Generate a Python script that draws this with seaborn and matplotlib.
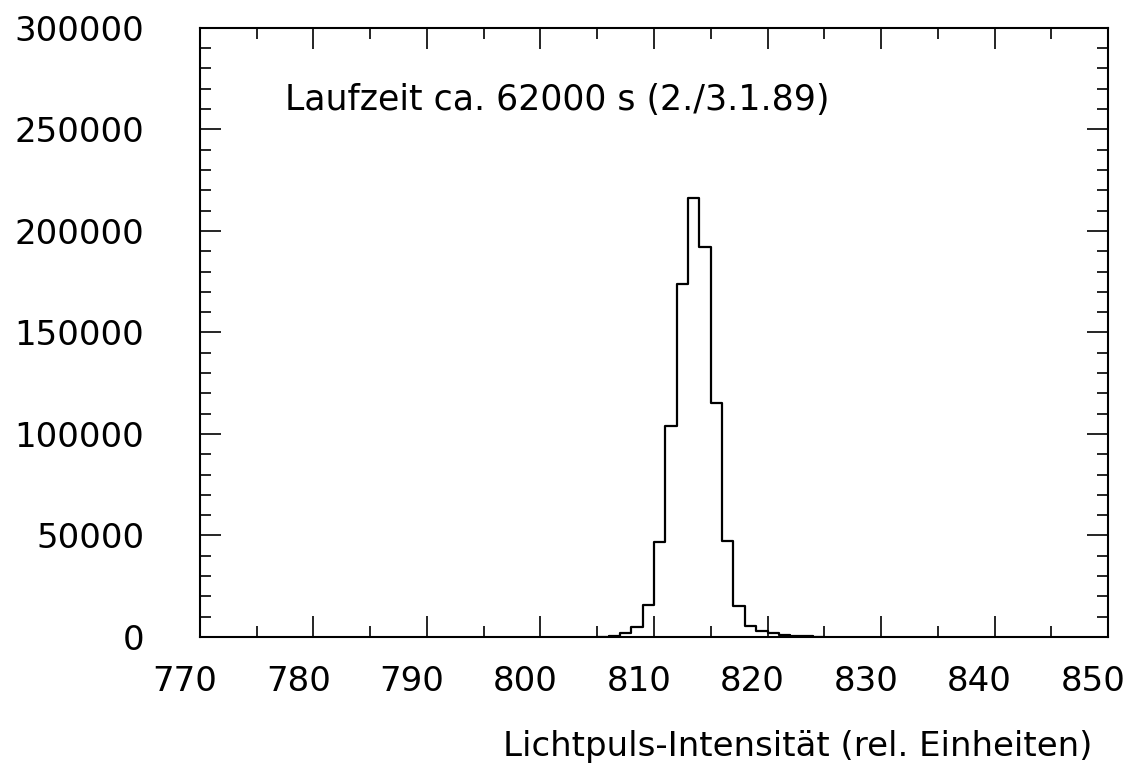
import matplotlib
matplotlib.use("Agg")
import matplotlib.pyplot as plt
import matplotlib.transforms as mtransforms
import seaborn as sns
from matplotlib.ticker import MultipleLocator

# Histogram data (bin left edges, counts), bin width 1
bin_left = [805, 806, 807, 808, 809, 810, 811, 812, 813, 814, 815, 816, 817,
            818, 819, 820, 821, 822, 823, 824]
counts = [200, 600, 2000, 4800, 15700, 47000, 104000, 174000, 216000, 192000,
          115000, 47500, 15300, 5500, 3200, 2000, 1200, 600, 300, 100]

x_ticks = [770, 780, 790, 800, 810, 820, 830, 840, 850]
y_ticks = [0, 50000, 100000, 150000, 200000, 250000, 300000]
annotation = "Laufzeit ca. 62000 s (2./3.1.89)"
xlabel = "Lichtpuls-Intensität (rel. Einheiten)"

sns.set_style("ticks")
plt.rcParams['font.family'] = ['DejaVu Sans']
plt.rcParams['text.color'] = 'black'
plt.rcParams['axes.labelcolor'] = 'black'

fig = plt.figure(figsize=(11.31, 7.74), dpi=100)
ax = fig.add_axes([0.1768, 0.177, 0.8029, 0.787])

centers = [b + 0.5 for b in bin_left]
edges = bin_left + [bin_left[-1] + 1]
sns.histplot(x=centers, weights=counts, bins=edges, element="step", fill=False,
             color="black", linewidth=1.6, ax=ax)

ax.set_xlim(770, 850)
ax.set_ylim(0, 300000)
ax.set_xticks(x_ticks)
ax.set_yticks(y_ticks)
ax.xaxis.set_minor_locator(MultipleLocator(5))
ax.yaxis.set_minor_locator(MultipleLocator(10000))
ax.ticklabel_format(style='plain', axis='y')
ax.set_ylabel("")

ax.tick_params(which='both', direction='in', top=True, right=True,
               width=1.2, colors='black', labelsize=24.5)
ax.tick_params(which='major', length=15)
ax.tick_params(which='minor', length=8)
ax.tick_params(axis='x', which='major', pad=20)
ax.tick_params(axis='y', which='major', pad=40)
for s in ax.spines.values():
    s.set_linewidth(1.5)
    s.set_color('black')

# x tick labels sit slightly left of their ticks in the reference
offset = mtransforms.ScaledTranslation(-0.15, 0, fig.dpi_scale_trans)
for t in ax.xaxis.get_major_ticks():
    t.label1.set_transform(t.label1.get_transform() + offset)

ax.text(777.5, 264500, annotation, fontsize=25, va='center', ha='left', color='black')
ax.set_xlabel(xlabel, fontsize=24.5, loc='right', labelpad=23, color='black')
ax.xaxis.label.set_x(0.983)

fig.savefig("out.png", dpi=100)
